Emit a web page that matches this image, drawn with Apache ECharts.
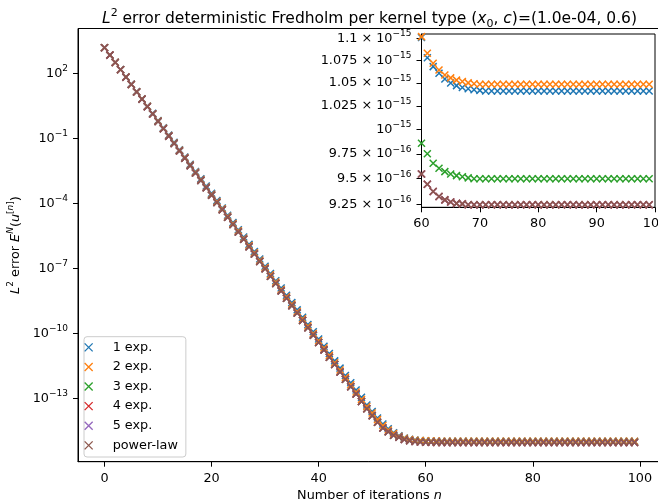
<!DOCTYPE html>
<html><head><meta charset="utf-8">
<script src="https://cdn.jsdelivr.net/npm/echarts@6/dist/echarts.min.js"></script>
<style>html,body{margin:0;padding:0;background:#fff}#c{width:658px;height:499px}</style>
</head><body><div id="c"></div>
<script>
const iterations = [0,1,2,3,4,5,6,7,8,9,10,11,12,13,14,15,16,17,18,19,20,21,22,23,24,25,26,27,28,29,30,31,32,33,34,35,36,37,38,39,40,41,42,43,44,45,46,47,48,49,50,51,52,53,54,55,56,57,58,59,60,61,62,63,64,65,66,67,68,69,70,71,72,73,74,75,76,77,78,79,80,81,82,83,84,85,86,87,88,89,90,91,92,93,94,95,96,97,98,99];

const seriesNames = ['1 exp.','2 exp.','3 exp.','4 exp.','5 exp.','power-law'];
const seriesColors = ['#1f77b4','#ff7f0e','#2ca02c','#d62728','#9467bd','#8c564b'];

// iterations 0..48
const decay1 = [1.514e3,6.982e2,3.221e2,1.486e2,6.855e1,3.162e1,1.459e1,6.730,3.105,1.432,
6.607e-1,3.048e-1,1.406e-1,6.486e-2,2.992e-2,1.380e-2,6.368e-3,2.938e-3,1.355e-3,6.252e-4,
2.884e-4,1.330e-4,6.138e-5,2.831e-5,1.306e-5,6.026e-6,2.780e-6,1.282e-6,5.916e-7,2.729e-7,
1.259e-7,5.808e-8,2.679e-8,1.236e-8,5.702e-9,2.630e-9,1.213e-9,5.598e-10,2.582e-10,1.191e-10,
5.495e-11,2.535e-11,1.169e-11,5.395e-12,2.489e-12,1.148e-12,5.297e-13,2.443e-13,1.127e-13];
const decay2 = [1.514e3,6.950e2,3.192e2,1.466e2,6.730e1,3.090e1,1.419e1,6.516,2.992,1.374,
6.310e-1,2.897e-1,1.330e-1,6.109e-2,2.805e-2,1.288e-2,5.916e-3,2.716e-3,1.247e-3,5.728e-4,
2.630e-4,1.208e-4,5.546e-5,2.547e-5,1.169e-5,5.370e-6,2.466e-6,1.132e-6,5.200e-7,2.388e-7,
1.096e-7,5.035e-8,2.312e-8,1.062e-8,4.875e-9,2.239e-9,1.028e-9,4.721e-10,2.168e-10,9.954e-11,
4.571e-11,2.099e-11,9.638e-12,4.426e-12,2.032e-12,9.333e-13,4.285e-13,1.968e-13,9.036e-14];
const decayShared = [1.514e3,6.918e2,3.162e2,1.445e2,6.607e1,3.020e1,1.380e1,6.310,2.884,1.318,
6.026e-1,2.754e-1,1.259e-1,5.754e-2,2.630e-2,1.202e-2,5.495e-3,2.512e-3,1.148e-3,5.248e-4,
2.399e-4,1.096e-4,5.012e-5,2.291e-5,1.047e-5,4.786e-6,2.188e-6,1.000e-6,4.571e-7,2.089e-7,
9.550e-8,4.365e-8,1.995e-8,9.120e-9,4.169e-9,1.905e-9,8.710e-10,3.981e-10,1.820e-10,8.318e-11,
3.802e-11,1.738e-11,7.943e-12,3.631e-12,1.660e-12,7.586e-13,3.467e-13,1.585e-13,7.244e-14];

// iterations 49..99
const tail1 = [5.0e-14,2.5e-14,1.25e-14,6.6e-15,4.0e-15,2.6e-15,1.9e-15,1.5e-15,1.3e-15,1.19e-15,
1.13e-15,1.101e-15,1.078e-15,1.068e-15,1.0605e-15,1.0543e-15,1.0499e-15,1.047e-15,1.045e-15,1.0435e-15,
1.0425e-15,1.0418e-15,1.0411e-15,1.0411e-15,1.0411e-15,1.0411e-15,1.0411e-15,1.0411e-15,1.0411e-15,1.0411e-15,
1.0411e-15,1.0411e-15,1.0411e-15,1.0411e-15,1.0411e-15,1.0411e-15,1.0411e-15,1.0411e-15,1.0411e-15,1.0411e-15,
1.0411e-15,1.0411e-15,1.0411e-15,1.0411e-15,1.0411e-15,1.0411e-15,1.0411e-15,1.0411e-15,1.0411e-15,1.0411e-15,
1.0411e-15];
const tail2 = [4.27e-14,2.1e-14,1.05e-14,5.6e-15,3.5e-15,2.4e-15,1.8e-15,1.45e-15,1.26e-15,1.17e-15,
1.125e-15,1.102e-15,1.083e-15,1.0717e-15,1.0642e-15,1.0586e-15,1.0555e-15,1.053e-15,1.0514e-15,1.05e-15,
1.049e-15,1.0484e-15,1.0484e-15,1.0484e-15,1.0484e-15,1.0484e-15,1.0484e-15,1.0484e-15,1.0484e-15,1.0484e-15,
1.0484e-15,1.0484e-15,1.0484e-15,1.0484e-15,1.0484e-15,1.0484e-15,1.0484e-15,1.0484e-15,1.0484e-15,1.0484e-15,
1.0484e-15,1.0484e-15,1.0484e-15,1.0484e-15,1.0484e-15,1.0484e-15,1.0484e-15,1.0484e-15,1.0484e-15,1.0484e-15,
1.0484e-15];
const tail3 = [3.311e-14,1.6e-14,8.0e-15,4.3e-15,2.9e-15,2.0e-15,1.6e-15,1.3e-15,1.12e-15,1.05e-15,
1.0e-15,9.858e-16,9.75e-16,9.654e-16,9.604e-16,9.57e-16,9.547e-16,9.53e-16,9.519e-16,9.508e-16,
9.5e-16,9.5e-16,9.5e-16,9.5e-16,9.5e-16,9.5e-16,9.5e-16,9.5e-16,9.5e-16,9.5e-16,
9.5e-16,9.5e-16,9.5e-16,9.5e-16,9.5e-16,9.5e-16,9.5e-16,9.5e-16,9.5e-16,9.5e-16,
9.5e-16,9.5e-16,9.5e-16,9.5e-16,9.5e-16,9.5e-16,9.5e-16,9.5e-16,9.5e-16,9.5e-16,
9.5e-16];
const tailShared = [3.311e-14,1.6e-14,8.0e-15,4.3e-15,2.9e-15,2.0e-15,1.6e-15,1.28e-15,1.11e-15,1.03e-15,
9.8e-16,9.547e-16,9.445e-16,9.373e-16,9.324e-16,9.292e-16,9.271e-16,9.258e-16,9.253e-16,9.245e-16,
9.245e-16,9.245e-16,9.245e-16,9.245e-16,9.245e-16,9.245e-16,9.245e-16,9.245e-16,9.245e-16,9.245e-16,
9.245e-16,9.245e-16,9.245e-16,9.245e-16,9.245e-16,9.245e-16,9.245e-16,9.245e-16,9.245e-16,9.245e-16,
9.245e-16,9.245e-16,9.245e-16,9.245e-16,9.245e-16,9.245e-16,9.245e-16,9.245e-16,9.245e-16,9.245e-16,
9.245e-16];

const errExp1 = decay1.concat(tail1);
const errExp2 = decay2.concat(tail2);
const errExp3 = decayShared.concat(tail3);
const errExp4 = decayShared.concat(tailShared);
const errExp5 = decayShared.concat(tailShared);
const errPowerLaw = decayShared.concat(tailShared);
const allSeries = [errExp1, errExp2, errExp3, errExp4, errExp5, errPowerLaw];

const xTicks = [0, 20, 40, 60, 80, 100];
const yTicks = [1e2, 1e-1, 1e-4, 1e-7, 1e-10, 1e-13];
const insetYTicks = [9.25e-16, 9.5e-16, 9.75e-16, 1e-15, 1.025e-15, 1.05e-15, 1.075e-15, 1.1e-15];

const FONT = 'DejaVu Sans';
const FS = 12.8;
const xPath = 'path://M0,0L10,10M0,10L10,0';
const rich = {
  b: {fontFamily: FONT, fontSize: FS, lineHeight: 18, color: '#000', verticalAlign: 'middle'},
  i: {fontFamily: FONT, fontSize: FS, lineHeight: 18, color: '#000', fontStyle: 'italic', verticalAlign: 'middle'},
  sup: {fontFamily: FONT, fontSize: 9, lineHeight: 9, color: '#000', verticalAlign: 'top'},
  supi: {fontFamily: FONT, fontSize: 9, lineHeight: 9, color: '#000', fontStyle: 'italic', verticalAlign: 'top'},
  sub: {fontFamily: FONT, fontSize: 9, lineHeight: 9, color: '#000', verticalAlign: 'bottom'}
};
const titleRich = {
  t: {fontFamily: FONT, fontSize: 15.5, lineHeight: 22, color: '#000', verticalAlign: 'middle'},
  i: {fontFamily: FONT, fontSize: 15.5, lineHeight: 22, color: '#000', fontStyle: 'italic', verticalAlign: 'middle'},
  sup: {fontFamily: FONT, fontSize: 11, lineHeight: 10, color: '#000', verticalAlign: 'top'},
  sub: {fontFamily: FONT, fontSize: 11, lineHeight: 10, color: '#000', verticalAlign: 'bottom'}
};
function expStr(e) { return e < 0 ? '\u2212' + (-e) : String(e); }
function pow10Label(v) {
  const e = Math.round(Math.log10(v));
  return '{b|10}{sup|' + expStr(e) + '}';
}
function sciLabel(v) {
  const e = Math.floor(Math.log10(v) + 1e-9);
  const m = Number((v / Math.pow(10, e)).toFixed(3));
  if (m === 1) return '{b|10}{sup|' + expStr(e) + '}';
  return '{b|' + m + ' \u00d7 10}{sup|' + expStr(e) + '}';
}
const black = {color: '#000', width: 1};

const series = [];
allSeries.forEach(function (arr, k) {
  const pts = iterations.map(function (n, i) { return [n, arr[i]]; });
  const common = {
    type: 'scatter', name: seriesNames[k], symbol: xPath, symbolSize: 7, symbolKeepAspect: true,
    itemStyle: {color: seriesColors[k], borderColor: seriesColors[k], borderWidth: 1.5, opacity: 1},
    emphasis: {disabled: true}, silent: true
  };
  series.push(Object.assign({}, common, {xAxisIndex: 0, yAxisIndex: 0, data: pts}));
  series.push(Object.assign({}, common, {xAxisIndex: 1, yAxisIndex: 1, clip: true,
    data: pts.filter(function (p) { return p[0] >= 60; })}));
});

const chart = echarts.init(document.getElementById('c'), null, {renderer: 'canvas'});
chart.setOption({
  animation: false,
  backgroundColor: '#fff',
  title: {
    text: '{i|L}{sup|2}{t| error deterministic Fredholm per kernel type (}{i|x}{sub|0}{t|, }{i|c}{t|)=(1.0e-04, 0.6)}',
    left: 369.5, top: 8, textAlign: 'center', padding: 0,
    textStyle: {rich: titleRich, fontFamily: FONT, fontSize: 15.5, fontWeight: 'normal', color: '#000'}
  },
  legend: {
    orient: 'vertical', left: 84, top: 336.7, padding: [1, 8, 2, 0],
    itemWidth: 38, itemHeight: 8, itemGap: 0.3, symbolKeepAspect: true,
    backgroundColor: 'rgba(255,255,255,0.8)', borderColor: '#cccccc', borderWidth: 1, borderRadius: 3,
    itemStyle: {borderWidth: 1.3, opacity: 1},
    textStyle: {fontFamily: FONT, fontSize: FS, lineHeight: 19.3, color: '#000', padding: [0, 0, 0, 0]},
    data: seriesNames, selectedMode: false
  },
  grid: [
    {left: 78, top: 28.5, width: 583, height: 433.2, show: true, borderColor: '#000', borderWidth: 1, backgroundColor: 'transparent', containLabel: false, outerBoundsMode: 'none'},
    {left: 421.5, top: 34, width: 233.5, height: 173.3, show: true, borderColor: '#000', borderWidth: 1, backgroundColor: '#fff', containLabel: false, outerBoundsMode: 'none'}
  ],
  xAxis: [
    {gridIndex: 0, type: 'value', min: -4.95, max: 103.95,
     axisLine: {show: true, onZero: false, lineStyle: black},
     axisTick: {show: true, length: 5, lineStyle: black, customValues: xTicks},
     axisLabel: {customValues: xTicks, margin: 10, color: '#000', fontFamily: FONT, fontSize: FS},
     splitLine: {show: false},
     name: '{b|Number of iterations }{i|n}', nameLocation: 'middle', nameGap: 21,
     nameTextStyle: {rich: rich}},
    {gridIndex: 1, type: 'value', min: 60, max: 100, interval: 10,
     axisLine: {show: true, onZero: false, lineStyle: black},
     axisTick: {show: true, length: 5, lineStyle: black},
     axisLabel: {margin: 10, color: '#000', fontFamily: FONT, fontSize: FS, showMaxLabel: true, hideOverlap: false},
     splitLine: {show: false}}
  ],
  yAxis: [
    {gridIndex: 0, type: 'log', logBase: 10, min: 1.2e-16, max: 1.167e4,
     axisLine: {show: true, onZero: false, lineStyle: black},
     axisTick: {show: true, length: 5, lineStyle: black, customValues: yTicks},
     axisLabel: {customValues: yTicks, margin: 10, formatter: pow10Label, rich: rich},
     minorTick: {show: false}, splitLine: {show: false},
     name: '{i|L}{sup|2}{b| error }{i|E}{supi|N}{b|(}{i|u}{sup|[}{supi|n}{sup|]}{b|)}',
     nameLocation: 'middle', nameGap: 44, nameRotate: 90,
     nameTextStyle: {rich: rich}},
    {gridIndex: 1, type: 'log', logBase: 10, min: 9.22e-16, max: 1.105e-15,
     axisLine: {show: true, onZero: false, lineStyle: black},
     axisTick: {show: true, length: 5, lineStyle: black, customValues: insetYTicks},
     axisLabel: {customValues: insetYTicks, margin: 10, formatter: sciLabel, rich: rich},
     minorTick: {show: false}, splitLine: {show: false}}
  ],
  series: series
});
</script>
</body></html>
